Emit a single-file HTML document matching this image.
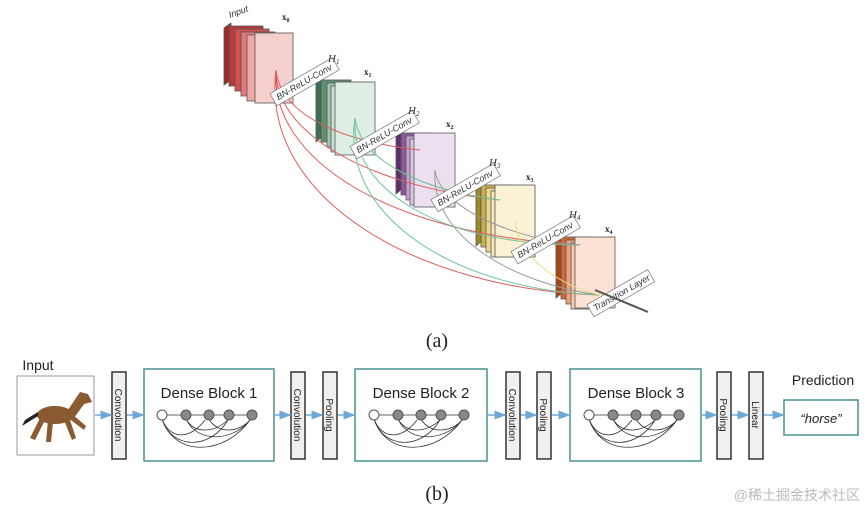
<!DOCTYPE html>
<html><head><meta charset="utf-8"><style>
body{margin:0;background:#fff;width:865px;height:512px;overflow:hidden}
svg{display:block}
</style></head><body>
<svg width="865" height="512" viewBox="0 0 865 512" xmlns="http://www.w3.org/2000/svg" font-family="Liberation Sans, sans-serif">
<defs>
<marker id="ab" markerWidth="8" markerHeight="8" refX="7" refY="4" orient="auto"><path d="M0,1 L8,4 L0,7z" fill="#6fa8d6"/></marker>
</defs>
<g stroke="#555" stroke-width="0.8">
<polygon points="224,28 231,23 231,80 224,85" fill="#9e2a2a"/>
<rect x="229" y="26" width="34" height="60" fill="#b83a3a"/>
<rect x="235" y="29" width="34" height="62" fill="#d05050"/>
<rect x="241" y="32" width="34" height="64" fill="#e07a78"/>
<rect x="247" y="35" width="34" height="66" fill="#eea8a6"/>
<rect x="255" y="33" width="38" height="70" fill="#f6d0cf"/>
<polygon points="316,83 323,77 323,136 316,142" fill="#3f6e52"/>
<rect x="321" y="80" width="30" height="62" fill="#5f9170"/>
<rect x="327" y="83" width="30" height="64" fill="#9fc7ae"/>
<rect x="331" y="86" width="30" height="66" fill="#c8e2d2"/>
<rect x="335" y="82" width="40" height="73" fill="#deeee4"/>
<polygon points="396,136 403,130 403,188 396,194" fill="#5e2e6a"/>
<rect x="401" y="133" width="30" height="62" fill="#8c5a9c"/>
<rect x="406" y="136" width="30" height="64" fill="#c5a2d0"/>
<rect x="410" y="139" width="30" height="66" fill="#dcc6e4"/>
<rect x="414" y="133" width="41" height="74" fill="#ece0f0"/>
<polygon points="476,188 483,182 483,240 476,246" fill="#9a8a2a"/>
<rect x="481" y="185" width="30" height="62" fill="#c8b050"/>
<rect x="486" y="188" width="30" height="64" fill="#ecd890"/>
<rect x="491" y="191" width="30" height="66" fill="#f6e8b8"/>
<rect x="495" y="185" width="40" height="72" fill="#fbf2d6"/>
<polygon points="556,240 563,234 563,292 556,298" fill="#a84618"/>
<rect x="561" y="237" width="30" height="62" fill="#d0683a"/>
<rect x="566" y="240" width="30" height="64" fill="#eea080"/>
<rect x="571" y="243" width="30" height="66" fill="#f6c8b0"/>
<rect x="575" y="237" width="40" height="71" fill="#fbe2d4"/>
</g>
<g fill="none" stroke-width="1">
<path d="M276,70 C280,110 330,140 420,150" stroke="#e05a5a"/>
<path d="M276,70 C275,130 360,185 500,200" stroke="#e05a5a"/>
<path d="M276,70 C270,160 390,235 580,245" stroke="#e05a5a"/>
<path d="M276,70 C260,200 420,290 600,295" stroke="#e05a5a"/>
<path d="M355,118 C360,160 420,190 500,200" stroke="#6cc49a"/>
<path d="M355,118 C350,190 440,245 580,245" stroke="#6cc49a"/>
<path d="M355,118 C340,220 460,290 600,295" stroke="#6cc49a"/>
<path d="M435,170 C440,210 520,240 580,245" stroke="#999"/>
<path d="M435,170 C430,240 520,285 600,295" stroke="#999"/>
<path d="M515,222 C520,260 560,285 600,295" stroke="#e4e080"/>
</g>
<g font-style="italic" font-size="9" fill="#333">
<g transform="translate(276,104) rotate(-30)"><rect x="0" y="-12" width="72" height="14" fill="#fff" stroke="#777" stroke-width="0.7"/><text x="4" y="-2">BN-ReLU-Conv</text></g>
<g transform="translate(356,157) rotate(-30)"><rect x="0" y="-12" width="72" height="14" fill="#fff" stroke="#777" stroke-width="0.7"/><text x="4" y="-2">BN-ReLU-Conv</text></g>
<g transform="translate(437,210) rotate(-30)"><rect x="0" y="-12" width="72" height="14" fill="#fff" stroke="#777" stroke-width="0.7"/><text x="4" y="-2">BN-ReLU-Conv</text></g>
<g transform="translate(517,262) rotate(-30)"><rect x="0" y="-12" width="72" height="14" fill="#fff" stroke="#777" stroke-width="0.7"/><text x="4" y="-2">BN-ReLU-Conv</text></g>
<g transform="translate(593,315) rotate(-30)"><rect x="0" y="-12" width="70" height="14" fill="#fff" stroke="#777" stroke-width="0.7"/><text x="4" y="-2">Transition Layer</text></g>
<text x="230" y="18" transform="rotate(-20 230 18)">Input</text>
<text x="328" y="62" font-family="Liberation Serif,serif" font-size="11">H<tspan font-size="7" dy="2">1</tspan></text>
<text x="408" y="114" font-family="Liberation Serif,serif" font-size="11">H<tspan font-size="7" dy="2">2</tspan></text>
<text x="489" y="166" font-family="Liberation Serif,serif" font-size="11">H<tspan font-size="7" dy="2">3</tspan></text>
<text x="569" y="218" font-family="Liberation Serif,serif" font-size="11">H<tspan font-size="7" dy="2">4</tspan></text>
</g>
<g font-family="Liberation Serif,serif" font-weight="bold" font-size="9" fill="#222">
<text x="282" y="20">x<tspan font-size="6" dy="2">0</tspan></text>
<text x="364" y="75">x<tspan font-size="6" dy="2">1</tspan></text>
<text x="446" y="127">x<tspan font-size="6" dy="2">2</tspan></text>
<text x="526" y="180">x<tspan font-size="6" dy="2">3</tspan></text>
<text x="605" y="232">x<tspan font-size="6" dy="2">4</tspan></text>
</g>
<line x1="595" y1="290" x2="648" y2="312" stroke="#555" stroke-width="2"/>
<text x="437" y="347" font-family="Liberation Serif,serif" font-size="20" text-anchor="middle" fill="#222">(a)</text>
<text x="38" y="370" font-size="14" text-anchor="middle" fill="#222">Input</text>
<rect x="17" y="376" width="77" height="79" fill="#fff" stroke="#999"/>
<g fill="#8a5a30"><ellipse cx="55" cy="415" rx="18" ry="9"/><path d="M68,410 L80,392 L88,394 L92,402 L84,404 L74,418z"/><path d="M40,418 L30,438 L35,440 L44,422z M48,420 L46,442 L51,442 L53,422z M64,420 L72,440 L76,438 L70,420z M68,418 L84,430 L86,426 L72,414z"/><path d="M38,412 L25,420 L22,426 L38,416z" fill="#222"/></g>
<g stroke="#333" stroke-width="1.5" fill="#f0f0f0">
<rect x="112" y="372" width="14" height="87"/>
<rect x="291" y="372" width="14" height="87"/>
<rect x="323" y="372" width="14" height="87"/>
<rect x="506" y="372" width="14" height="87"/>
<rect x="537" y="372" width="14" height="87"/>
<rect x="717" y="372" width="14" height="87"/>
<rect x="749" y="372" width="14" height="87"/>
</g>
<g font-size="10" fill="#222">
<text transform="translate(115,415) rotate(90)" text-anchor="middle">Convolution</text>
<text transform="translate(294,415) rotate(90)" text-anchor="middle">Convolution</text>
<text transform="translate(326,415) rotate(90)" text-anchor="middle">Pooling</text>
<text transform="translate(509,415) rotate(90)" text-anchor="middle">Convolution</text>
<text transform="translate(540,415) rotate(90)" text-anchor="middle">Pooling</text>
<text transform="translate(720,415) rotate(90)" text-anchor="middle">Pooling</text>
<text transform="translate(752,415) rotate(90)" text-anchor="middle">Linear</text>
</g>
<g fill="none" stroke="#4a9090" stroke-width="1.5">
<rect x="144" y="369" width="130" height="92"/>
<rect x="355" y="369" width="132" height="92"/>
<rect x="570" y="369" width="131" height="92"/>
<rect x="784" y="400" width="74" height="35"/>
</g>
<g font-size="15" fill="#222" text-anchor="middle">
<text x="209" y="398">Dense Block 1</text>
<text x="421" y="398">Dense Block 2</text>
<text x="636" y="398">Dense Block 3</text>
<text x="823" y="385" font-size="14">Prediction</text>
<text x="821" y="423" font-size="13" font-style="italic">“horse”</text>
</g>
<g stroke="#6fa8d6" stroke-width="1.5" marker-end="url(#ab)">
<line x1="95" y1="415" x2="111" y2="415"/><line x1="127" y1="415" x2="143" y2="415"/>
<line x1="275" y1="415" x2="290" y2="415"/><line x1="306" y1="415" x2="322" y2="415"/><line x1="338" y1="415" x2="354" y2="415"/>
<line x1="488" y1="415" x2="505" y2="415"/><line x1="521" y1="415" x2="536" y2="415"/><line x1="552" y1="415" x2="569" y2="415"/>
<line x1="702" y1="415" x2="716" y2="415"/><line x1="732" y1="415" x2="748" y2="415"/><line x1="764" y1="415" x2="783" y2="415"/>
</g>
<g id="net">
<g fill="none" stroke="#333" stroke-width="0.8">
<path d="M162,415 L250,415"/>
<path d="M162,419 C170,440 190,440 205,420"/><path d="M162,419 C172,450 210,450 228,420"/><path d="M162,419 C175,458 225,455 250,420"/>
<path d="M186,419 C195,435 215,432 228,420"/><path d="M186,419 C198,445 235,440 250,420"/><path d="M209,419 C218,435 240,432 250,420"/>
</g>
<circle cx="162" cy="415" r="5" fill="#fff" stroke="#555"/>
<g fill="#888" stroke="#555"><circle cx="186" cy="415" r="5"/><circle cx="209" cy="415" r="5"/><circle cx="229" cy="415" r="5"/><circle cx="252" cy="415" r="5"/></g>
</g>
<use href="#net" x="212"/>
<use href="#net" x="427"/>
<text x="437" y="500" font-family="Liberation Serif,serif" font-size="20" text-anchor="middle" fill="#222">(b)</text>
<text x="860" y="500" font-family="Liberation Sans, Noto Sans CJK SC, sans-serif" font-size="14" text-anchor="end" fill="#bbb">@稀土掘金技术社区</text>
</svg>
</body></html>
